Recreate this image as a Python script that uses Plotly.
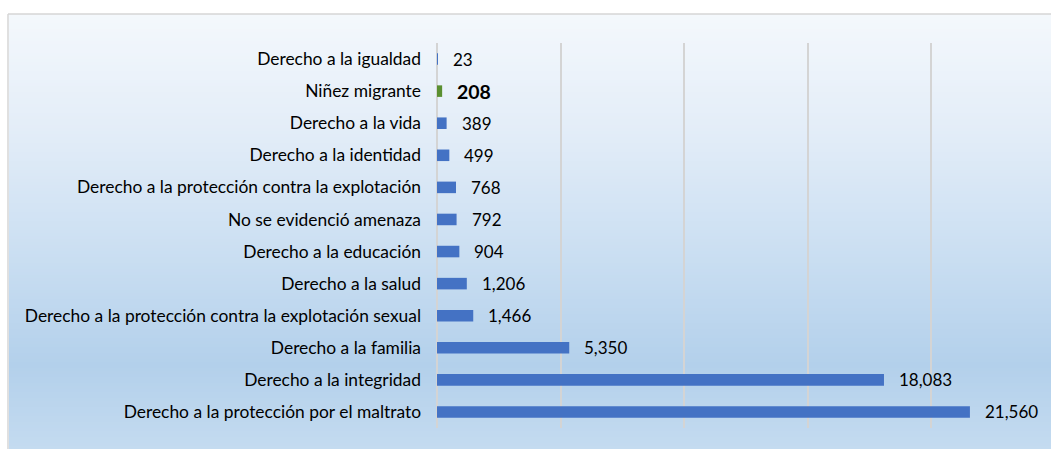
import plotly.graph_objects as go

# Categories listed top to bottom
categories = [
    "Derecho a la igualdad",
    "Niñez migrante",
    "Derecho a la vida",
    "Derecho a la identidad",
    "Derecho a la protección contra la explotación",
    "No se evidenció amenaza",
    "Derecho a la educación",
    "Derecho a la salud",
    "Derecho a la protección contra la explotación sexual",
    "Derecho a la familia",
    "Derecho a la integridad",
    "Derecho a la protección por el maltrato",
]
values = [23, 208, 389, 499, 768, 792, 904, 1206, 1466, 5350, 18083, 21560]
highlight = "Niñez migrante"

BLUE = "#4472C4"
GREEN = "#5A8F30"
FONT = "Lato, Calibri, Carlito, sans-serif"

W, H = 1051, 449
L, R, T, B = 437, 0, 43, 21
PW, PH = W - L - R, H - T - B


def px_x(px):
    return (px - L) / PW


def px_y(py):
    return (H - B - py) / PH


colors = [GREEN if c == highlight else BLUE for c in categories]

fig = go.Figure()
fig.add_trace(go.Bar(
    y=categories,
    x=values,
    orientation="h",
    marker=dict(color=colors, line=dict(width=0)),
    hoverinfo="x+y",
))

# Value labels beside each bar
for c, v in zip(categories, values):
    bold = c == highlight
    fig.add_annotation(
        x=v, y=c, xref="x", yref="y",
        text=f"<b>{v:,}</b>" if bold else f"{v:,}",
        showarrow=False, xanchor="left", xshift=13,
        font=dict(family=FONT, size=19.5 if bold else 17, color="#000000"),
    )

# Chart-area background: vertical gradient built from thin bands
stops = [
    (14, (244, 248, 252)),
    (130, (227, 237, 248)),
    (250, (203, 223, 242)),
    (365, (179, 208, 235)),
    (449, (196, 219, 240)),
]


def color_at(py):
    for (y0, c0), (y1, c1) in zip(stops, stops[1:]):
        if y0 <= py <= y1:
            t = (py - y0) / (y1 - y0)
            return "rgb(%d,%d,%d)" % tuple(round(a + (b - a) * t) for a, b in zip(c0, c1))
    return "rgb(%d,%d,%d)" % stops[-1][1]


shapes = []
band = 3
y = 14
while y < H:
    y2 = min(y + band, H)
    shapes.append(dict(
        type="rect", xref="paper", yref="paper", layer="below",
        x0=px_x(9), x1=px_x(W + 5), y0=px_y(y2 + 0.5), y1=px_y(y),
        fillcolor=color_at(y + band / 2), line=dict(width=0),
    ))
    y = y2
# Chart-area frame
shapes.append(dict(
    type="line", xref="paper", yref="paper", layer="below",
    x0=px_x(8), x1=px_x(8), y0=px_y(14), y1=px_y(H + 5),
    line=dict(color="#d6d6d6", width=1.5),
))
shapes.append(dict(
    type="line", xref="paper", yref="paper", layer="below",
    x0=px_x(8), x1=px_x(W + 5), y0=px_y(14), y1=px_y(14),
    line=dict(color="#d6d6d6", width=1.5),
))

fig.update_layout(
    width=W, height=H,
    margin=dict(l=L, r=R, t=T, b=B, pad=0),
    paper_bgcolor="white",
    plot_bgcolor="rgba(0,0,0,0)",
    showlegend=False,
    bargap=0.64,
    shapes=shapes,
    font=dict(family=FONT, size=17.4, color="#000000"),
    xaxis=dict(
        range=[0, 24840], dtick=5000, showticklabels=False,
        showgrid=True, gridcolor="#d4d4d4", gridwidth=1.5,
        zeroline=True, zerolinecolor="#d4d4d4", zerolinewidth=1.5,
        showline=False, fixedrange=True,
    ),
    yaxis=dict(
        autorange="reversed", showgrid=False, zeroline=False, showline=False,
        ticks="", ticklabelstandoff=15,
        tickfont=dict(family=FONT, size=17.4, color="#000000"),
        fixedrange=True,
    ),
)

fig.write_html("out.html")
